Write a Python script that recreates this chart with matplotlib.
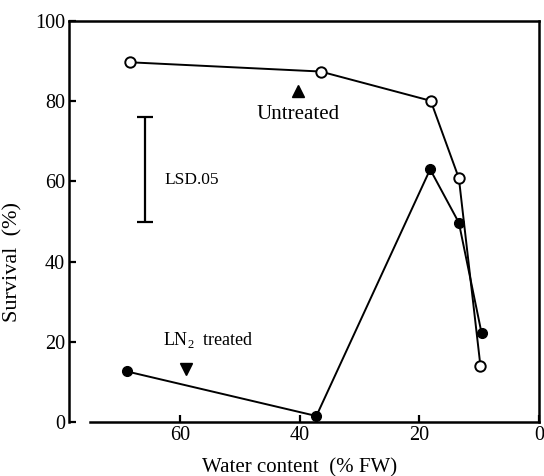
import matplotlib.pyplot as plt

plt.rcParams['font.family'] = ['Liberation Serif', 'DejaVu Serif']

# data
water_untreated = [68.3, 36.5, 18.1, 13.4, 9.8]
surv_untreated = [89.7, 87.4, 80.1, 60.8, 14.0]
water_ln2 = [68.8, 37.2, 18.2, 13.4, 9.6]
surv_ln2 = [12.6, 1.5, 63.0, 49.7, 22.1]

# LSD.05 bar
lsd_x = 65.8
lsd_low, lsd_high = 49.9, 76.1

xticks = [60, 40, 20, 0]
yticks = [0, 20, 40, 60, 80, 100]

fig = plt.figure(figsize=(5.44, 4.76), dpi=100)
ax = fig.add_axes([0.127, 0.1134, 0.864, 0.8425])

ax.plot(water_untreated, surv_untreated, color='black', lw=1.4,
        marker='o', markersize=7.5, markerfacecolor='white',
        markeredgecolor='black', markeredgewidth=1.4, zorder=3)
ax.plot(water_ln2, surv_ln2, color='black', lw=1.4,
        marker='o', markersize=7, markerfacecolor='black',
        markeredgecolor='black', zorder=3)

# LSD bar
ax.errorbar([lsd_x], [(lsd_low + lsd_high) / 2],
            yerr=[[(lsd_high - lsd_low) / 2], [(lsd_high - lsd_low) / 2]],
            fmt='none', ecolor='black', elinewidth=1.6, capsize=6, capthick=1.6)
ax.text(62.6, 60.3, 'LSD.05', fontsize=12.5, va='center', ha='left')

# labels with triangles
ax.plot([40.3], [82.5], marker='^', color='black', markersize=8.5)
ax.text(40.3, 76.8, 'Untreated', fontsize=15, ha='center', va='center')
ax.plot([58.9], [13.2], marker='v', color='black', markersize=8.5)
ax.text(55.3, 20.4, r'LN$_\mathregular{2}$  treated', fontsize=13,
        ha='center', va='center')

ax.set_xlim(78.5, 0)
ax.set_ylim(0, 100)
ax.set_xticks(xticks)
ax.set_yticks(yticks)
ax.tick_params(direction='in', length=5, width=1.6, labelsize=14.5, pad=3)

for s in ax.spines.values():
    s.set_linewidth(1.8)
ax.spines['bottom'].set_bounds(75, 0)

ax.set_xlabel('Water content  (% FW)', fontsize=15)
ax.set_ylabel('Survival  (%)', fontsize=16)
ax.xaxis.set_label_coords(0.49, -0.09)
ax.yaxis.set_label_coords(-0.1, 0.4)

fig.savefig('out.png', dpi=100)
